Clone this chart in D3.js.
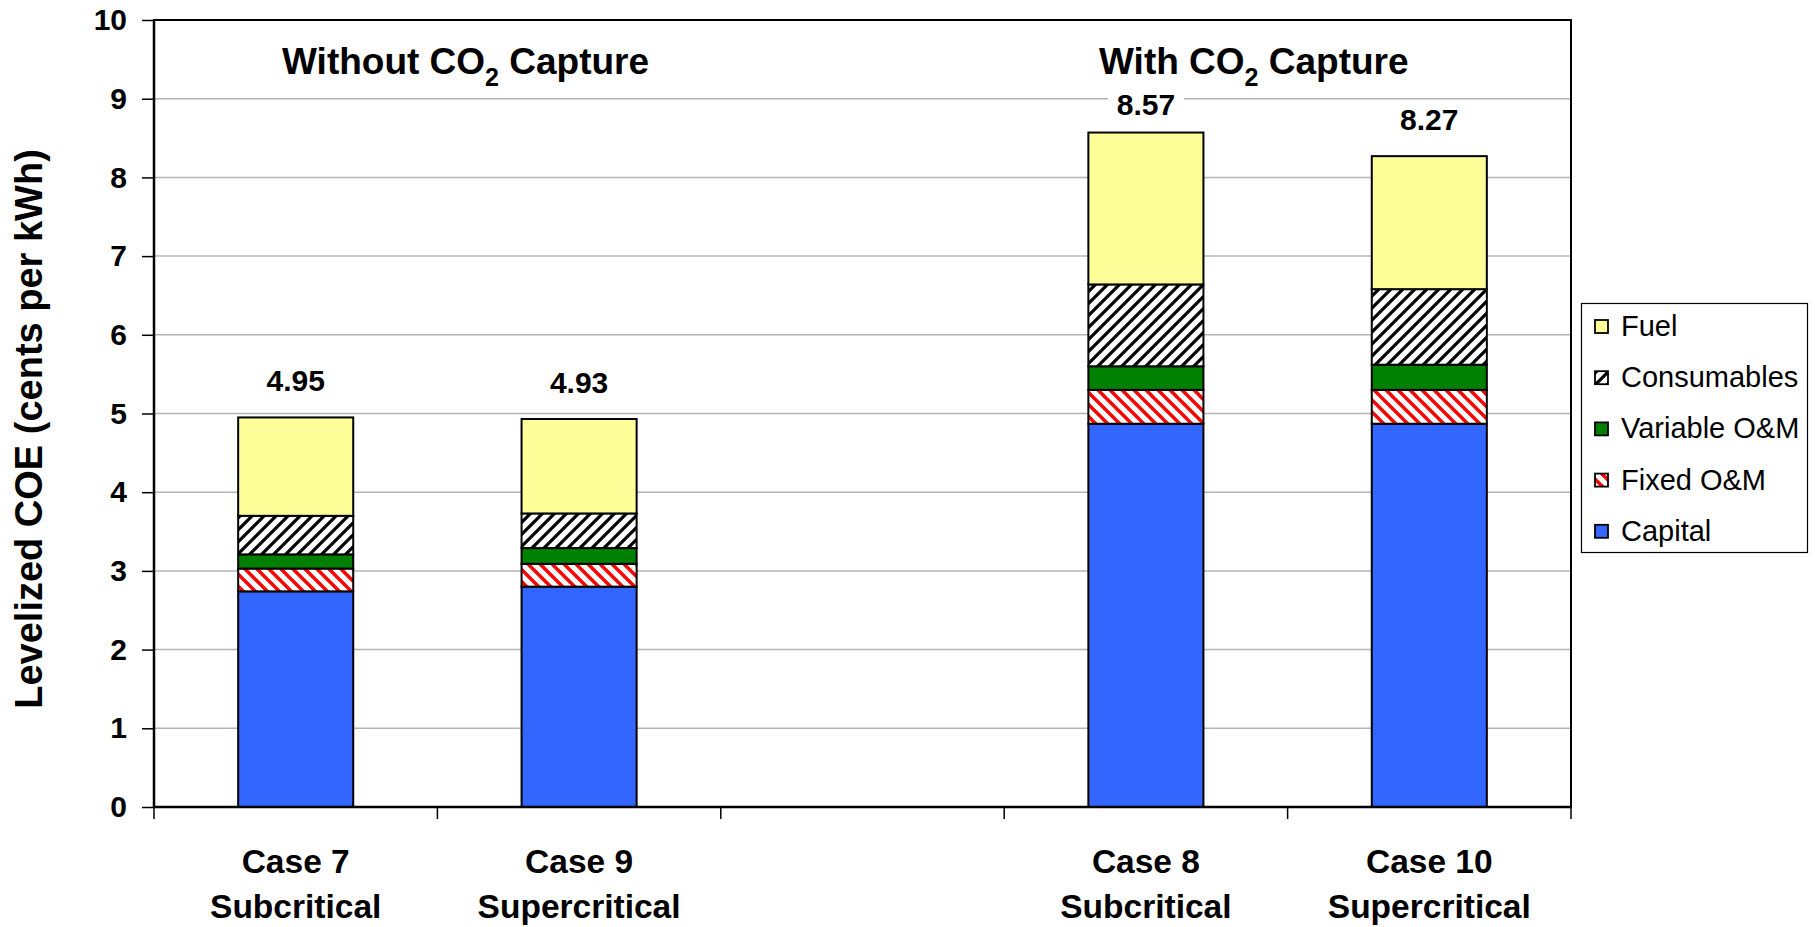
<!DOCTYPE html>
<html><head><meta charset="utf-8">
<script src="https://cdn.jsdelivr.net/npm/d3@7"></script>
<style>
body{margin:0;background:#fff}
svg{display:block}
text{font-family:"Liberation Sans",Arial,Helvetica,sans-serif}
</style>
</head><body>
<svg id="chart" width="1818" height="927"></svg>
<script>
// ---------- data ----------
const caseNames   = ["Case 7", "Case 9", "", "Case 8", "Case 10"];
const caseTypes   = ["Subcritical", "Supercritical", "", "Subcritical", "Supercritical"];
const seriesNames = ["Capital", "Fixed O&M", "Variable O&M", "Consumables", "Fuel"];
const capital     = [2.74, 2.80, null, 4.87, 4.87];
const fixedOM     = [0.29, 0.29, null, 0.43, 0.43];
const variableOM  = [0.18, 0.20, null, 0.30, 0.32];
const consumables = [0.49, 0.44, null, 1.04, 0.96];
const fuel        = [1.25, 1.20, null, 1.93, 1.69];
const totals      = [4.95, 4.93, null, 8.57, 8.27];
const yTicks      = [0, 1, 2, 3, 4, 5, 6, 7, 8, 9, 10];
const groupTitles = [["Without CO", "2", " Capture"], ["With CO", "2", " Capture"]];

// ---------- layout ----------
const plot = {left: 154, right: 1571, top: 20, bottom: 807};
const svg = d3.select("#chart");

const keys = caseNames.map((d, i) => "c" + i);
const x = d3.scaleBand().domain(keys).range([plot.left, plot.right])
  .paddingInner(0.594).paddingOuter(0.297);
const y = d3.scaleLinear().domain([0, 10]).range([plot.bottom, plot.top]);

const seriesArrays = [capital, fixedOM, variableOM, consumables, fuel];
const rows = [];
caseNames.forEach((c, i) => {
  if (capital[i] == null) return;
  const r = {key: keys[i], total: totals[i]};
  seriesNames.forEach((s, j) => r[s] = seriesArrays[j][i]);
  rows.push(r);
});
const stack = d3.stack().keys(seriesNames)(rows);

// ---------- patterns ----------
const defs = svg.append("defs");
const pc = defs.append("pattern").attr("id", "consPat").attr("patternUnits", "userSpaceOnUse")
  .attr("width", 12).attr("height", 12);
pc.append("rect").attr("width", 12).attr("height", 12).attr("fill", "#fff");
pc.append("path").attr("d", "M-3,3L3,-3M0,12L12,0M9,15L15,9")
  .attr("stroke", "#000").attr("stroke-width", 3.2);
const pf = defs.append("pattern").attr("id", "fixedPat").attr("patternUnits", "userSpaceOnUse")
  .attr("width", 12).attr("height", 12);
pf.append("rect").attr("width", 12).attr("height", 12).attr("fill", "#fff");
pf.append("path").attr("d", "M-3,9L3,15M0,0L12,12M9,-3L15,3")
  .attr("stroke", "#ff0000").attr("stroke-width", 3.4);

const fills = {
  "Capital": "#3366ff",
  "Fixed O&M": "url(#fixedPat)",
  "Variable O&M": "#008000",
  "Consumables": "url(#consPat)",
  "Fuel": "#ffff99"
};

// ---------- gridlines ----------
svg.append("g").selectAll("line").data(yTicks.filter(t => t > 0 && t < 10)).join("line")
  .attr("x1", plot.left).attr("x2", plot.right)
  .attr("y1", d => y(d)).attr("y2", d => y(d))
  .attr("stroke", "#b4b4b4").attr("stroke-width", 1.5);

// ---------- bars ----------
const gBars = svg.append("g");
stack.forEach(layer => {
  gBars.append("g").selectAll("rect").data(layer).join("rect")
    .attr("x", d => x(d.data.key))
    .attr("width", x.bandwidth())
    .attr("y", d => y(d[1]))
    .attr("height", d => y(d[0]) - y(d[1]))
    .attr("fill", fills[layer.key])
    .attr("stroke", "#000").attr("stroke-width", 2);
});

// ---------- y axis ----------
const yAxis = d3.axisLeft(y).tickValues(yTicks).tickSize(12).tickPadding(15).tickFormat(d3.format("d"));
const gy = svg.append("g").attr("transform", `translate(${plot.left},0)`).call(yAxis);
gy.select(".domain").remove();
gy.selectAll(".tick line").attr("stroke", "#000").attr("stroke-width", 1.5);
gy.selectAll(".tick text").attr("font-size", 30).attr("font-weight", "bold").attr("fill", "#000")
  .attr("font-family", '"Liberation Sans", Arial, sans-serif');

// ---------- x axis ticks (between categories) ----------
const boundaries = keys.map(k => x(k) - x.step() * x.paddingInner() / 2).concat([plot.right]);
boundaries[0] = plot.left;
svg.append("g").selectAll("line").data(boundaries).join("line")
  .attr("x1", d => d).attr("x2", d => d)
  .attr("y1", plot.bottom).attr("y2", plot.bottom + 12)
  .attr("stroke", "#000").attr("stroke-width", 1.5);

// category labels
const gx = svg.append("g");
caseNames.forEach((c, i) => {
  if (!c) return;
  const cx = x(keys[i]) + x.bandwidth() / 2;
  const t = gx.append("text").attr("text-anchor", "middle").attr("font-weight", "bold")
    .attr("font-size", 33.5).attr("fill", "#000");
  t.append("tspan").attr("x", cx).attr("y", 873).text(c);
  t.append("tspan").attr("x", cx).attr("y", 918).text(caseTypes[i]);
});

// ---------- plot border & axes ----------
svg.append("rect").attr("x", plot.left).attr("y", plot.top)
  .attr("width", plot.right - plot.left).attr("height", plot.bottom - plot.top)
  .attr("fill", "none").attr("stroke", "#000").attr("stroke-width", 2);
svg.append("line").attr("x1", plot.left).attr("x2", plot.right)
  .attr("y1", plot.bottom).attr("y2", plot.bottom).attr("stroke", "#000").attr("stroke-width", 2.5);
svg.append("line").attr("x1", plot.left).attr("x2", plot.left)
  .attr("y1", plot.top).attr("y2", plot.bottom).attr("stroke", "#000").attr("stroke-width", 2.5);

// ---------- value labels ----------
const gl = svg.append("g");
rows.forEach(r => {
  const cx = x(r.key) + x.bandwidth() / 2;
  const by = Math.max(y(r.total) - 26, 115);
  gl.append("rect").attr("x", cx - 38).attr("y", by - 28).attr("width", 76).attr("height", 34)
    .attr("fill", "#fff");
  gl.append("text").attr("x", cx).attr("y", by).attr("text-anchor", "middle")
    .attr("font-weight", "bold").attr("font-size", 30).attr("fill", "#000")
    .text(d3.format(".2f")(r.total));
});

// ---------- group titles ----------
const titleX = [282, 1099];
groupTitles.forEach((parts, i) => {
  const t = svg.append("text").attr("x", titleX[i]).attr("y", 74)
    .attr("font-weight", "bold").attr("font-size", 37).attr("fill", "#000");
  t.append("tspan").text(parts[0]);
  t.append("tspan").attr("font-size", 25).attr("dy", 12).text(parts[1]);
  t.append("tspan").attr("dy", -12).text(parts[2]);
});

// ---------- y title ----------
svg.append("text").attr("transform", "translate(42,429) rotate(-90)")
  .attr("text-anchor", "middle").attr("font-weight", "bold").attr("font-size", 38)
  .attr("fill", "#000").text("Levelized COE (cents per kWh)");

// ---------- legend ----------
const leg = svg.append("g");
leg.append("rect").attr("x", 1581.5).attr("y", 303.5).attr("width", 226).attr("height", 249)
  .attr("fill", "#fff").attr("stroke", "#000").attr("stroke-width", 1.2);
const legOrder = seriesNames.slice().reverse();
legOrder.forEach((s, i) => {
  const by = 336 + i * 51.2;
  leg.append("rect").attr("x", 1595).attr("y", by - 16).attr("width", 13).attr("height", 13)
    .attr("fill", fills[s]).attr("stroke", "#000").attr("stroke-width", 1.8);
  leg.append("text").attr("x", 1621).attr("y", by).attr("font-size", 29).attr("fill", "#000").text(s);
});
</script>
</body></html>
